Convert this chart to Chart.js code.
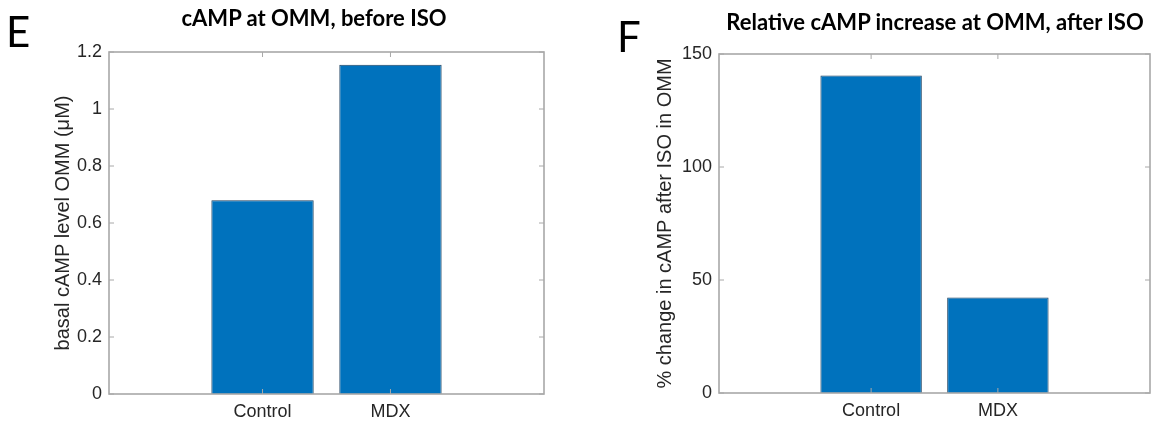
<!DOCTYPE html>
<html lang="en">
<head>
  <meta charset="UTF-8">
  <title>cAMP at OMM</title>
  <script src="https://cdn.jsdelivr.net/npm/chart.js"></script>
  <style>
    body {
      margin: 0;
      background: #fff;
    }
    #wrap {
      position: relative;
      width: 1154px;
      height: 425px;
    }
    .panel {
      position: absolute;
      top: 0;
      width: 577px;
      height: 425px;
    }
    .letter {
      position: absolute;
      font-family: Lato, sans-serif;
      font-size: 42px;
      line-height: 1;
      color: #000;
    }
    .title {
      position: absolute;
      font-family: Lato, sans-serif;
      font-weight: bold;
      font-size: 22px;
      line-height: 1;
      color: #000;
      white-space: nowrap;
      transform: translateX(-50%);
    }
  </style>
</head>
<body>
  <div id="wrap">
    <div class="panel" style="left:0"><canvas id="basalChart" width="577" height="425"></canvas></div>
    <div class="panel" style="left:577px"><canvas id="pctChart" width="577" height="425"></canvas></div>
    <div class="letter" style="left:6px; top:10px">E</div>
    <div class="letter" style="left:617px; top:15px">F</div>
    <div class="title" style="left:314px; top:7px">cAMP at OMM, before ISO</div>
    <div class="title" style="left:935px; top:11px">Relative cAMP increase at OMM, after ISO</div>
  </div>

  <script>
    const categories = ['Control', 'MDX'];
    const basalCamp = [0.68, 1.155];
    const pctChange = [140.5, 42.3];
    const basalTicks = [0, 0.2, 0.4, 0.6, 0.8, 1, 1.2];
    const pctTicks = [0, 50, 100, 150];

    const textColor = '#262626';
    const boxColor = '#a8a8a8';
    const axisFont = '"Liberation Sans", Arial, sans-serif';

    // matlab style box with inward ticks on all four sides
    const boxPlugin = {
      id: 'matlabBox',
      afterDatasetsDraw(chart) {
        const { ctx, chartArea: a, scales } = chart;
        ctx.save();
        ctx.strokeStyle = boxColor;
        ctx.lineWidth = 1.6;
        ctx.strokeRect(a.left, a.top, a.right - a.left, a.bottom - a.top);
        ctx.lineWidth = 1;
        const len = 5;
        ctx.beginPath();
        scales.y.ticks.forEach(t => {
          const py = scales.y.getPixelForValue(t.value);
          ctx.moveTo(a.left, py); ctx.lineTo(a.left + len, py);
          ctx.moveTo(a.right, py); ctx.lineTo(a.right - len, py);
        });
        scales.x.ticks.forEach(t => {
          const px = scales.x.getPixelForValue(t.value);
          ctx.moveTo(px, a.bottom); ctx.lineTo(px, a.bottom - len);
          ctx.moveTo(px, a.top); ctx.lineTo(px, a.top + len);
        });
        ctx.stroke();
        ctx.restore();
      }
    };

    function makeChart(id, values, yTicks, yTitle, box) {
      const ctx = document.getElementById(id).getContext('2d');
      return new Chart(ctx, {
        type: 'bar',
        data: {
          datasets: [{
            data: values.map((v, i) => ({ x: i + 1, y: v })),
            backgroundColor: '#0072bd',
            borderColor: '#1b3f5e',
            borderWidth: 1,
            barPercentage: 0.8,
            categoryPercentage: 1
          }]
        },
        options: {
          responsive: false,
          animation: false,
          layout: { padding: { top: box.top, right: box.right, bottom: 0, left: 0 } },
          plugins: { legend: { display: false }, tooltip: { enabled: false } },
          scales: {
            x: {
              type: 'linear',
              offset: false,
              min: -0.2,
              max: 3.2,
              grid: { display: false, drawTicks: false },
              border: { display: false },
              afterBuildTicks: s => { s.ticks = categories.map((c, i) => ({ value: i + 1 })); },
              afterFit: s => { s.height = box.bottom; },
              ticks: {
                padding: 7,
                color: textColor,
                font: { family: axisFont, size: 18 },
                callback: v => categories[v - 1] || ''
              }
            },
            y: {
              min: yTicks[0],
              max: yTicks[yTicks.length - 1],
              grid: { display: false, drawTicks: false },
              border: { display: false },
              afterBuildTicks: s => { s.ticks = yTicks.map(v => ({ value: v })); },
              afterFit: s => { s.width = box.left; },
              ticks: {
                padding: 7,
                color: textColor,
                font: { family: axisFont, size: 18 },
                callback: v => String(v)
              },
              title: {
                display: true,
                text: yTitle,
                color: textColor,
                padding: { top: box.titleX, bottom: 0 },
                font: { family: axisFont, size: 20 }
              }
            }
          }
        },
        plugins: [boxPlugin]
      });
    }

    makeChart('basalChart', basalCamp, basalTicks, 'basal cAMP level OMM (\u03bcM)',
      { left: 109, right: 33, top: 52, bottom: 31, titleX: 51 });
    makeChart('pctChart', pctChange, pctTicks, '% change in cAMP after ISO in OMM',
      { left: 142, right: 4, top: 54, bottom: 32, titleX: 76 });
  </script>
</body>
</html>
